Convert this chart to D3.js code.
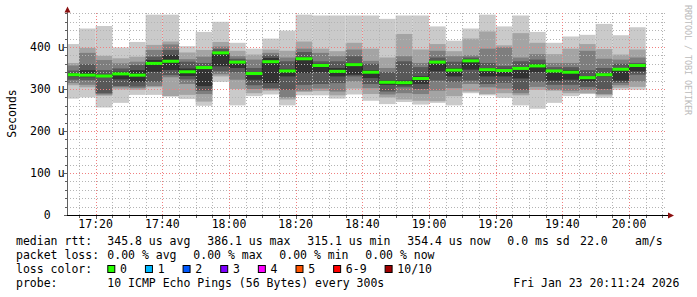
<!DOCTYPE html>
<html>
<head>
<meta charset="utf-8">
<script src="https://cdn.jsdelivr.net/npm/d3@7/dist/d3.min.js"></script>
<style>
  body { margin: 0; background: #fff; }
  text { font-family: "DejaVu Sans Mono", monospace; font-size: 11.5px; fill: #000; white-space: pre; }
</style>
</head>
<body>
<svg id="chart" width="697" height="297"></svg>
<script>
// Data

// end time of every 300s step
const binEnds = ["17:15","17:20","17:25","17:30","17:35","17:40","17:45","17:50","17:55",
  "18:00","18:05","18:10","18:15","18:20","18:25","18:30","18:35","18:40","18:45","18:50",
  "18:55","19:00","19:05","19:10","19:15","19:20","19:25","19:30","19:35","19:40","19:45",
  "19:50","19:55","20:00","20:05"];

// 10 sorted ping times per step, in microseconds
const pings = [
  [277,309,314,322,330,338,344,356,362,407],
  [280,304,310,321,328,345,359,386,398,444],
  [256,284,287,290,329,334,345,369,379,450],
  [267,299,304,307,323,341,349,361,373,399],
  [286,298,302,306,317,345,357,365,377,412],
  [286,304,307,317,341,369,377,393,405,477],
  [282,283,328,333,345,381,393,406,413,477],
  [276,286,312,323,331,349,365,371,387,402],
  [260,270,288,296,307,353,362,377,393,436],
  [317,330,335,342,354,388,395,401,412,460],
  [261,300,322,340,350,366,372,378,391,410],
  [283,290,300,309,322,333,350,370,382,396],
  [287,296,299,302,314,374,380,386,394,420],
  [261,275,280,298,330,348,366,375,391,439],
  [285,293,296,310,338,375,388,396,413,477],
  [285,295,301,312,340,360,366,386,396,475],
  [277,285,294,314,330,350,366,378,390,475],
  [287,301,318,330,334,362,378,394,410,475],
  [272,288,302,312,326,345,360,367,396,475],
  [264,280,287,294,310,320,340,350,375,467],
  [269,275,290,304,309,320,366,378,431,475],
  [263,272,288,300,312,330,352,362,394,475],
  [267,271,296,320,342,367,375,391,407,449],
  [261,283,302,317,330,350,365,378,390,415],
  [290,294,312,320,346,370,375,380,420,444],
  [285,288,304,312,330,350,362,396,437,477],
  [279,290,301,315,330,348,355,399,404,449],
  [261,285,290,298,325,352,366,375,433,475],
  [253,298,305,317,340,360,370,383,410,436],
  [267,296,298,310,320,345,352,362,383,410],
  [283,290,296,310,322,345,352,362,396,425],
  [288,290,298,305,318,330,345,391,407,429],
  [279,285,288,300,330,337,350,372,395,455],
  [298,303,309,315,320,350,360,370,382,428],
  [298,305,318,334,342,358,362,375,394,447]
];

const medians = [334,333,331,336,333,361,366,341,351,386,364,337,365,343,372,356,342,358,
  340,316,315,325,364,345,367,346,344,349,355,343,340,327,334,347,356];

const yTicks = [0, 100, 200, 300, 400];
const yTickLabels = ["  0", "100 u", "200 u", "300 u", "400 u"];

const lossLabels = ["0", "1", "2", "3", "4", "5", "6-9", "10/10"];
const lossColors = ["#26ff00", "#00b8ff", "#0059ff", "#7e00ff", "#ff00ff", "#ff5500", "#ff0000", "#a10000"];

const rttStats = ["345.8 us avg", "386.1 us max", "315.1 us min", "354.4 us now", "0.0 ms sd"];
const rttExtra = ["22.0", "am/s"];
const lossStats = ["0.00 % avg", "0.00 % max", "0.00 % min", "0.00 % now"];
const probeText = "10 ICMP Echo Pings (56 Bytes) every 300s";
const stampText = "Fri Jan 23 20:11:24 2026";

// smoke greys, outer pair first
const smokeGreys = ["#cacaca", "#a4a4a4", "#7e7e7e", "#585858", "#323232"];

// Chart setup
const svg = d3.select('#chart');
const day = '2026-01-23T';
const start = new Date(day + '17:11:24');
const end = new Date(day + '20:11:24');

const x = d3.scaleTime().domain([start, end]).range([67, 667]);
const y = d3.scaleLinear().domain([0, 480]).range([215, 13.4]);

const bins = binEnds.map((t, i) => {
  const e = new Date(day + t + ':00');
  const s = d3.max([d3.timeMinute.offset(e, -5), start]);
  return { s, e, p: pings[i], med: medians[i] };
});

// Smoke
const smoke = svg.append('g');
smokeGreys.forEach((col, k) => {
  smoke.selectAll(null)
    .data(bins)
    .enter().append('rect')
    .attr('x', d => x(d.s))
    .attr('width', d => x(d.e) - x(d.s))
    .attr('y', d => y(d.p[9 - k]))
    .attr('height', d => y(d.p[k]) - y(d.p[9 - k]))
    .attr('fill', col);
});

// Grid
const grid = svg.append('g').attr('stroke-dasharray', '1,2').attr('shape-rendering', 'crispEdges');
const minorY = d3.range(20, 481, 20).filter(v => v % 100 !== 0);
grid.selectAll('.gy')
  .data(minorY)
  .enter().append('line')
  .attr('x1', 67).attr('x2', 667)
  .attr('y1', d => Math.round(y(d)) + 0.5).attr('y2', d => Math.round(y(d)) + 0.5)
  .attr('stroke', '#b4b4b4');
const minorX = x.ticks(d3.timeMinute.every(5)).filter(t => t.getMinutes() % 20 !== 0);
grid.selectAll('.gx')
  .data(minorX)
  .enter().append('line')
  .attr('x1', d => Math.round(x(d)) + 0.5).attr('x2', d => Math.round(x(d)) + 0.5)
  .attr('y1', 215).attr('y2', 13)
  .attr('stroke', '#b4b4b4');
grid.selectAll('.my')
  .data(yTicks.slice(1))
  .enter().append('line')
  .attr('x1', 67).attr('x2', 667)
  .attr('y1', d => Math.round(y(d)) + 0.5).attr('y2', d => Math.round(y(d)) + 0.5)
  .attr('stroke', '#f08080');
const majorX = x.ticks(d3.timeMinute.every(20));
grid.selectAll('.mx')
  .data(majorX)
  .enter().append('line')
  .attr('x1', d => Math.round(x(d)) + 0.5).attr('x2', d => Math.round(x(d)) + 0.5)
  .attr('y1', 215).attr('y2', 13)
  .attr('stroke', '#f08080');

// Median line and loss-coloured median band
const medLine = d3.line()
  .x(d => x(d[0])).y(d => y(d[1]))
  .curve(d3.curveStepAfter);
const medPts = bins.map(d => [d.s, d.med]);
medPts.push([bins[bins.length - 1].e, bins[bins.length - 1].med]);
svg.append('path')
  .attr('d', medLine(medPts))
  .attr('fill', 'none')
  .attr('stroke', '#202020')
  .attr('stroke-width', 1);

svg.append('g').selectAll('rect')
  .data(bins)
  .enter().append('rect')
  .attr('x', d => x(d.s))
  .attr('width', d => x(d.e) - x(d.s))
  .attr('y', d => y(d.med) - 1.5)
  .attr('height', 3)
  .attr('fill', lossColors[0]);

// Axes
const axes = svg.append('g').attr('shape-rendering', 'crispEdges');
axes.append('line').attr('x1', 67.5).attr('x2', 67.5).attr('y1', 215).attr('y2', 10).attr('stroke', '#606060');
axes.append('line').attr('x1', 66).attr('x2', 670).attr('y1', 215.5).attr('y2', 215.5).attr('stroke', '#000');
axes.selectAll('.ty')
  .data(d3.range(0, 481, 20))
  .enter().append('line')
  .attr('x1', d => d % 100 === 0 ? 64 : 65).attr('x2', 67)
  .attr('y1', d => Math.round(y(d)) + 0.5).attr('y2', d => Math.round(y(d)) + 0.5)
  .attr('stroke', '#606060');
axes.selectAll('.tx')
  .data(x.ticks(d3.timeMinute.every(5)))
  .enter().append('line')
  .attr('x1', d => Math.round(x(d)) + 0.5).attr('x2', d => Math.round(x(d)) + 0.5)
  .attr('y1', 216).attr('y2', d => d.getMinutes() % 20 === 0 ? 219 : 218)
  .attr('stroke', '#606060');

// Arrows
svg.append('path').attr('d', 'M64.5,12.5 L67.5,6.5 L70.5,12.5 Z').attr('fill', '#8b1010');
svg.append('path').attr('d', 'M668,212.5 L674,215.5 L668,218.5 Z').attr('fill', '#8b1010');

// Tick labels
svg.selectAll('.yl')
  .data(yTicks)
  .enter().append('text')
  .attr('x', 30)
  .attr('y', d => y(d) + 4)
  .text((d, i) => yTickLabels[i]);

svg.selectAll('.xl')
  .data(majorX)
  .enter().append('text')
  .attr('x', d => x(d))
  .attr('y', 228)
  .attr('text-anchor', 'middle')
  .text(d => d3.timeFormat('%H:%M')(d));

svg.append('text')
  .attr('transform', 'translate(15.5,113.5) rotate(-90)')
  .attr('text-anchor', 'middle')
  .text('Seconds');

svg.append('text')
  .attr('transform', 'translate(684.5,5) rotate(90)')
  .attr('textLength', 110)
  .attr('lengthAdjust', 'spacing')
  .style('font-size', '8.5px')
  .style('fill', '#bbbbbb')
  .text('RRDTOOL / TOBI OETIKER');

// Legend
const leg = svg.append('g');
leg.append('text').attr('x', 16).attr('y', 245).text('median rtt:');
rttStats.forEach((s, i) => leg.append('text').attr('x', 107.3 + i * 100).attr('y', 245).text(s));
leg.append('text').attr('x', 580).attr('y', 245).text(rttExtra[0]);
leg.append('text').attr('x', 635).attr('y', 245).text(rttExtra[1]);

leg.append('text').attr('x', 16).attr('y', 259).text('packet loss:');
lossStats.forEach((s, i) => leg.append('text').attr('x', 107.3 + i * 86).attr('y', 259).text(s));

leg.append('text').attr('x', 16).attr('y', 273).text('loss color:');
let lx = 107.3;
lossLabels.forEach((lab, i) => {
  leg.append('rect')
    .attr('x', lx + 0.5).attr('y', 265.5)
    .attr('width', 7).attr('height', 7)
    .attr('fill', lossColors[i])
    .attr('stroke', '#000').attr('stroke-width', 1);
  const t = leg.append('text').attr('x', lx + 12.7).attr('y', 273).text(lab);
  lx = lx + 12.7 + t.node().getComputedTextLength() + 18;
});

leg.append('text').attr('x', 16).attr('y', 287).text('probe:');
leg.append('text').attr('x', 107.3).attr('y', 287).text(probeText);
leg.append('text').attr('x', 513.3).attr('y', 287).text(stampText);
</script>
</body>
</html>
